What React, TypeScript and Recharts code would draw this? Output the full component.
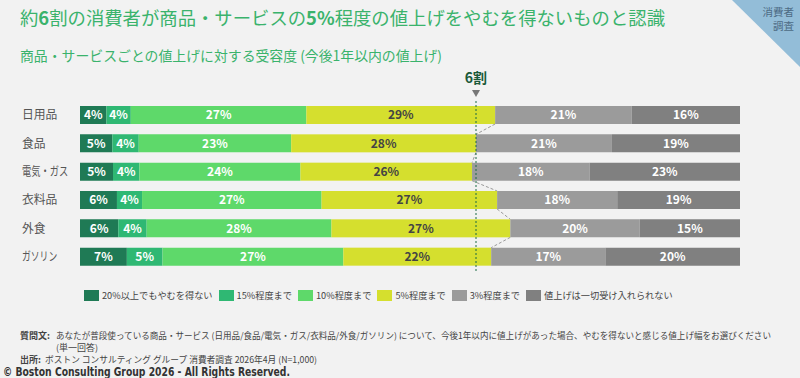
import { Bar, BarChart, LabelList, ReferenceLine, XAxis, YAxis } from "recharts";

const categories = ["日用品", "食品", "電気・ガス", "衣料品", "外食", "ガソリン"];
const over20 = [4.0, 4.9, 5.0, 5.6, 5.8, 7.1];
const upTo15 = [3.7, 4.0, 4.0, 3.8, 4.3, 5.4];
const upTo10 = [26.6, 23.1, 24.4, 27.2, 28.0, 27.4];
const upTo5 = [28.6, 28.0, 26.0, 26.6, 27.1, 22.4];
const upTo3 = [20.7, 20.6, 17.8, 18.2, 19.6, 17.3];
const noneAccepted = [16.4, 19.4, 22.8, 18.6, 15.2, 20.4];

const seriesNames = [
  "20%以上でもやむを得ない",
  "15%程度まで",
  "10%程度まで",
  "5%程度まで",
  "3%程度まで",
  "値上げは一切受け入れられない",
];
const seriesKeys = ["over20", "upTo15", "upTo10", "upTo5", "upTo3", "none"];
const seriesColors = ["#1f7a55", "#2fb873", "#5ed96a", "#d5df2e", "#9b9b9b", "#808080"];
const labelColors = ["#fff", "#fff", "#fff", "#444", "#fff", "#fff"];
const threshold = 60;

const rows = categories.map((name, i) => ({
  name,
  over20: over20[i],
  upTo15: upTo15[i],
  upTo10: upTo10[i],
  upTo5: upTo5[i],
  upTo3: upTo3[i],
  none: noneAccepted[i],
}));

const W = 800;
const H = 378;
const M = { top: 101, right: 60, bottom: 107, left: 0 };
const rowStep = (H - M.top - M.bottom) / categories.length;
const FONT = "'Noto Sans CJK JP', 'Noto Sans', sans-serif";
const GREEN = "#3ab36c";

// rough width of a label in the original (katakana and the middle dot are narrow there)
function labelWidth(s: string) {
  let w = 0;
  for (const ch of s) {
    if (ch === "・") w += 5;
    else if (ch >= "\u30a0" && ch <= "\u30ff") w += 8.8;
    else w += 11.8;
  }
  return w;
}

// yellow segment + dashed connector to the next row's yellow end
function YellowShape(props: any) {
  const { x, y, width, height, index, fill } = props;
  const i = index as number;
  let connector = null;
  if (i < rows.length - 1 && width > 0) {
    const ppu = width / upTo5[i];
    const cumBefore = over20[i] + upTo15[i] + upTo10[i];
    const x0 = x - cumBefore * ppu;
    const nextEnd = over20[i + 1] + upTo15[i + 1] + upTo10[i + 1] + upTo5[i + 1];
    connector = (
      <line
        x1={x + width}
        y1={y + height}
        x2={x0 + nextEnd * ppu}
        y2={y + rowStep}
        stroke="#9a9a9a"
        strokeDasharray="3 2"
      />
    );
  }
  return (
    <g>
      <rect x={x} y={y} width={width} height={height} fill={fill} />
      {connector}
    </g>
  );
}

function ThresholdLabel(props: any) {
  const { viewBox } = props;
  const cx = viewBox.x;
  const top = viewBox.y;
  return (
    <g>
      <text
        x={cx}
        y={top - 18}
        textAnchor="middle"
        fontFamily={FONT}
        fontSize={14}
        fontWeight="bold"
        fill="#1b5a3a"
      >
        6割
      </text>
      <path d={`M${cx - 4},${top - 11} L${cx + 4},${top - 11} L${cx},${top - 4} Z`} fill="#777" />
    </g>
  );
}

function CategoryTick(props: any) {
  const { y, payload } = props;
  const s = String(payload.value);
  return (
    <text
      x={22}
      y={y}
      dy={4}
      fontFamily={FONT}
      fontSize={12}
      fill="#555"
      textAnchor="start"
      textLength={labelWidth(s)}
      lengthAdjust="spacingAndGlyphs"
    >
      {s}
    </text>
  );
}

export default function App() {
  return (
    <div
      style={{
        position: "absolute",
        left: 0,
        top: 0,
        width: W,
        height: H,
        background: "#f2f2f2",
        overflow: "hidden",
        fontFamily: FONT,
      }}
    >
      <svg style={{ position: "absolute", left: 0, top: 0 }} width={W} height={H} fontFamily={FONT}>
        <polygon points="732,0 800,0 800,67" fill="#93bdd8" />
        <text x={794} y={16} textAnchor="end" fontSize={10.5} fill="#4d6b84">
          消費者
        </text>
        <text x={794} y={30} textAnchor="end" fontSize={10.5} fill="#4d6b84">
          調査
        </text>
        <text x={20} y={25} fontSize={18.3} fill={GREEN} textLength={645} lengthAdjust="spacingAndGlyphs">
          約<tspan fontWeight="bold">6</tspan>割の消費者が商品・サービスの<tspan fontWeight="bold">5%</tspan>程度の値上げをやむを得ないものと認識
        </text>
        <text x={20} y={61} fontSize={14} fill={GREEN} textLength={422} lengthAdjust="spacingAndGlyphs">
          商品・サービスごとの値上げに対する受容度 (今後1年以内の値上げ)
        </text>

        <g fill="#444" fontSize={9}>
          <text x={20} y={338.5} fontWeight="bold">質問文:</text>
          <text x={56} y={338.5} fontSize={8.7} textLength={715} lengthAdjust="spacingAndGlyphs">
            あなたが普段使っている商品・サービス (日用品/食品/電気・ガス/衣料品/外食/ガソリン) について、今後1年以内に値上げがあった場合、やむを得ないと感じる値上げ幅をお選びください
          </text>
          <text x={56} y={350.5}>(単一回答)</text>
          <text x={20} y={363} fontWeight="bold">出所:</text>
          <text x={45} y={363} textLength={272} lengthAdjust="spacingAndGlyphs">
            ボストン コンサルティング グループ 消費者調査 2026年4月 (N=1,000)
          </text>
        </g>
        <text
          x={3}
          y={376}
          fontSize={12}
          fontWeight="bold"
          fill="#333"
          fontFamily="'DejaVu Sans', sans-serif"
          textLength={287}
          lengthAdjust="spacingAndGlyphs"
        >
          © Boston Consulting Group 2026 - All Rights Reserved.
        </text>
      </svg>

      <div style={{ position: "absolute", left: 0, top: 0 }}>
        <BarChart width={W} height={H} data={rows} layout="vertical" margin={M} barSize={18}>
          <XAxis type="number" domain={[0, 100]} hide />
          <YAxis type="category" dataKey="name" width={80} axisLine={false} tickLine={false} tick={<CategoryTick />} />
          {seriesKeys.map((key, s) => (
            <Bar
              key={key}
              dataKey={key}
              name={seriesNames[s]}
              stackId="a"
              fill={seriesColors[s]}
              isAnimationActive={false}
              shape={s === 3 ? <YellowShape /> : undefined}
            >
              <LabelList
                dataKey={key}
                position="center"
                fill={labelColors[s]}
                fontSize={12}
                fontWeight="bold"
                fontFamily={FONT}
                formatter={(v: any) => `${Math.round(Number(v))}%`}
              />
            </Bar>
          ))}
          <ReferenceLine x={threshold} stroke="#1b6b45" strokeDasharray="2 2" label={<ThresholdLabel />} />
        </BarChart>
      </div>

      <div
        style={{
          position: "absolute",
          left: 84,
          top: 289,
          display: "flex",
          alignItems: "center",
          fontSize: 9.2,
          color: "#444",
          whiteSpace: "nowrap",
          lineHeight: "13px",
        }}
      >
        {seriesNames.map((n, s) => (
          <div key={n} style={{ display: "flex", alignItems: "center", marginRight: 6 }}>
            <span style={{ display: "inline-block", width: 15, height: 11, background: seriesColors[s], marginRight: 3 }} />
            <span>{n}</span>
          </div>
        ))}
      </div>
    </div>
  );
}
